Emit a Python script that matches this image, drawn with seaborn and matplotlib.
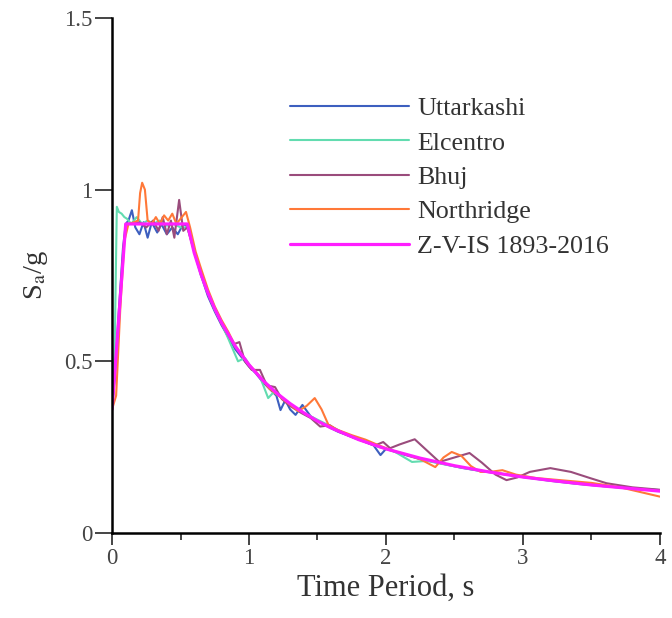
import numpy as np
import pandas as pd
import matplotlib
matplotlib.use("Agg")
import matplotlib.pyplot as plt
import seaborn as sns

# period T (s) and Sa/g for each record
utt_t = [0, 0.02, 0.05, 0.08, 0.10, 0.12, 0.145, 0.17, 0.20, 0.23, 0.26, 0.29, 0.33, 0.36, 0.40,
         0.44, 0.48, 0.52, 0.56, 0.60, 0.65, 0.70, 0.75, 0.80, 0.85, 0.90, 0.95, 1.00, 1.05, 1.10,
         1.15, 1.20, 1.23, 1.265, 1.30, 1.34, 1.39, 1.45, 1.55, 1.65, 1.75, 1.85, 1.91, 1.96, 2.00,
         2.10, 2.25, 2.40, 2.55, 2.70, 2.85, 3.0, 3.2, 3.4, 3.6, 3.8, 4.0]
utt_s = [0.37, 0.45, 0.65, 0.83, 0.90, 0.91, 0.94, 0.89, 0.87, 0.905, 0.86, 0.905, 0.875, 0.90, 0.87,
         0.89, 0.87, 0.90, 0.89, 0.82, 0.75, 0.69, 0.645, 0.605, 0.57, 0.535, 0.51, 0.485, 0.465, 0.44,
         0.42, 0.40, 0.358, 0.387, 0.36, 0.344, 0.373, 0.34, 0.315, 0.295, 0.28, 0.265, 0.255, 0.227, 0.245,
         0.232, 0.215, 0.203, 0.19, 0.18, 0.172, 0.163, 0.152, 0.143, 0.136, 0.13, 0.125]

elc_t = [0, 0.02, 0.035, 0.05, 0.07, 0.09, 0.11, 0.14, 0.18, 0.22, 0.26, 0.30, 0.35, 0.40, 0.45,
         0.50, 0.55, 0.60, 0.65, 0.70, 0.75, 0.80, 0.85, 0.92, 0.97, 1.02, 1.08, 1.14, 1.18, 1.25,
         1.35, 1.45, 1.55, 1.65, 1.75, 1.85, 1.95, 2.05, 2.19, 2.30, 2.45, 2.6, 2.8, 3.0, 3.2, 3.4,
         3.6, 3.8, 4.0]
elc_s = [0.38, 0.55, 0.95, 0.935, 0.93, 0.92, 0.915, 0.90, 0.92, 0.90, 0.91, 0.90, 0.91, 0.895, 0.90,
         0.89, 0.89, 0.82, 0.75, 0.70, 0.65, 0.61, 0.565, 0.50, 0.51, 0.48, 0.455, 0.393, 0.41, 0.39,
         0.36, 0.34, 0.32, 0.30, 0.28, 0.265, 0.25, 0.24, 0.207, 0.21, 0.198, 0.187, 0.175, 0.163, 0.153, 0.144,
         0.136, 0.129, 0.123]

bhu_t = [0, 0.05, 0.09, 0.11, 0.15, 0.20, 0.25, 0.30, 0.34, 0.37, 0.40, 0.43, 0.455, 0.49, 0.52,
         0.55, 0.60, 0.65, 0.70, 0.75, 0.80, 0.85, 0.89, 0.93, 0.97, 1.02, 1.08, 1.13, 1.19, 1.24,
         1.30, 1.38, 1.45, 1.52, 1.59, 1.66, 1.75, 1.85, 1.92, 1.98, 2.03, 2.10, 2.21, 2.30, 2.39,
         2.50, 2.61, 2.70, 2.80, 2.88, 2.96, 3.05, 3.2, 3.35, 3.49, 3.61, 3.8, 4.0]
bhu_s = [0.36, 0.62, 0.86, 0.90, 0.90, 0.905, 0.89, 0.91, 0.88, 0.92, 0.87, 0.91, 0.86, 0.97, 0.88,
         0.89, 0.82, 0.76, 0.70, 0.655, 0.61, 0.575, 0.55, 0.556, 0.50, 0.475, 0.475, 0.43, 0.425, 0.39,
         0.37, 0.35, 0.335, 0.31, 0.314, 0.295, 0.28, 0.265, 0.255, 0.265, 0.247, 0.258, 0.273, 0.24, 0.207,
         0.22, 0.233, 0.205, 0.17, 0.154, 0.162, 0.178, 0.189, 0.178, 0.16, 0.145, 0.133, 0.126]

nor_t = [0, 0.03, 0.06, 0.09, 0.12, 0.16, 0.19, 0.205, 0.22, 0.24, 0.26, 0.29, 0.32, 0.35, 0.38,
         0.41, 0.44, 0.47, 0.51, 0.54, 0.57, 0.61, 0.65, 0.70, 0.75, 0.80, 0.85, 0.90, 0.95, 1.00,
         1.05, 1.10, 1.15, 1.20, 1.28, 1.36, 1.42, 1.48, 1.53, 1.58, 1.65, 1.75, 1.85, 1.95, 2.05,
         2.15, 2.25, 2.36, 2.42, 2.48, 2.55, 2.62, 2.69, 2.76, 2.85, 2.95, 3.1, 3.3, 3.5, 3.7, 3.85, 4.0]
nor_s = [0.36, 0.40, 0.65, 0.85, 0.90, 0.905, 0.91, 0.99, 1.02, 1.0, 0.91, 0.90, 0.92, 0.90, 0.925,
         0.91, 0.93, 0.90, 0.92, 0.935, 0.89, 0.82, 0.77, 0.71, 0.66, 0.62, 0.585, 0.545, 0.515, 0.49,
         0.47, 0.445, 0.42, 0.405, 0.38, 0.355, 0.37, 0.393, 0.36, 0.315, 0.30, 0.285, 0.272, 0.255, 0.24,
         0.228, 0.215, 0.192, 0.22, 0.236, 0.225, 0.195, 0.178, 0.178, 0.183, 0.17, 0.16, 0.153, 0.146, 0.134, 0.12, 0.106]

# code spectrum, zone V
des_t = [0, 0.1, 0.55, 0.6, 0.65, 0.7, 0.75, 0.8, 0.9, 1.0, 1.1, 1.2, 1.3, 1.4, 1.5, 1.6, 1.8,
         2.0, 2.25, 2.5, 2.75, 3.0, 3.25, 3.5, 3.75, 4.0]
des_s = [0.36, 0.90, 0.90, 0.816, 0.753, 0.699, 0.653, 0.612, 0.544, 0.490, 0.445, 0.408, 0.377,
         0.350, 0.326, 0.306, 0.272, 0.245, 0.218, 0.196, 0.178, 0.163, 0.151, 0.140, 0.131, 0.122]

series = [
    ("Uttarkashi", utt_t, utt_s, "#3d5fbf", 1.5),
    ("Elcentro", elc_t, elc_s, "#62dcb0", 1.5),
    ("Bhuj", bhu_t, bhu_s, "#9a4c7c", 1.5),
    ("Northridge", nor_t, nor_s, "#ff7838", 1.5),
    ("Z-V-IS 1893-2016", des_t, des_s, "#ff1eff", 2.3),
]

sns.set_theme(style="ticks")
plt.rcParams['font.family'] = ['Liberation Serif', 'DejaVu Serif']
plt.rcParams['mathtext.fontset'] = 'stix'

fig = plt.figure(figsize=(6.72, 6.18), dpi=100)
ax = fig.add_axes([0.1667, 0.1375, 0.8153, 0.8335])

for name, t, s, col, lw in series:
    sns.lineplot(x=t, y=s, ax=ax, color=col, linewidth=lw, label=name, sort=False)

ax.set_xlim(0, 4)
ax.set_ylim(0, 1.5)
ax.set_xticks([0, 1, 2, 3, 4])
ax.set_xticks([0.5, 1.5, 2.5, 3.5], minor=True)
ax.set_yticks([0, 0.5, 1, 1.5])
ax.set_yticklabels(["0", "0.5", "1", "1.5"])
ax.set_xticklabels(["0", "1", "2", "3", "4"])
for sp in ["top", "right"]:
    ax.spines[sp].set_visible(False)
for sp in ["left", "bottom"]:
    ax.spines[sp].set_linewidth(1.8)
    ax.spines[sp].set_color("black")
ax.tick_params(axis="y", which="major", direction="out", length=12, width=1.4,
               color="#444444", labelsize=16.5, labelcolor="#444444", pad=2)
ax.tick_params(axis="x", which="major", direction="out", length=8.5, width=1.4,
               color="#444444", labelsize=16.5, labelcolor="#444444", pad=2)
ax.tick_params(axis="x", which="minor", direction="out", length=5, width=1.4, color="#444444")
ax.set_xlabel("Time Period, s", fontsize=22, color="#333333", labelpad=4)
ax.set_ylabel(r"S$_\mathrm{a}$/g", fontsize=20.5, color="#333333", labelpad=10)

ax.legend(loc="upper left", bbox_to_anchor=(0.4315, 0.843), bbox_transform=fig.transFigure,
          frameon=False, fontsize=18.7, handlelength=4.6, handletextpad=0.3, labelspacing=0.43,
          borderpad=0, borderaxespad=0, labelcolor="#333333")

fig.savefig("out.png", dpi=100)
